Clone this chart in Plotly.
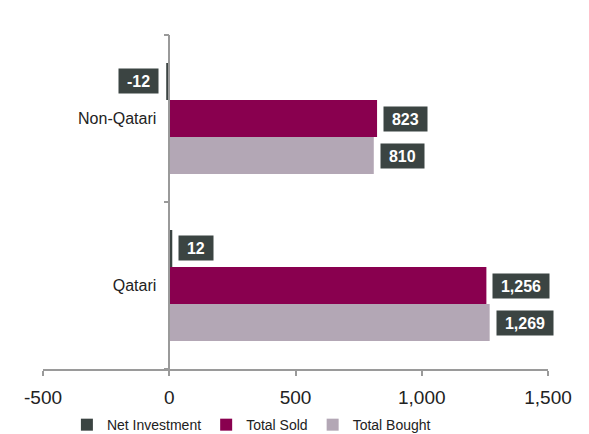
import plotly.graph_objects as go

categories = ["Qatari", "Non-Qatari"]
net_investment = [12, -12]
total_sold = [1256, 823]
total_bought = [1269, 810]

x_ticks = [-500, 0, 500, 1000, 1500]
x_tick_labels = ["-500", "0", "500", "1,000", "1,500"]

series = [
    ("Total Bought", total_bought, "#b3a7b5"),
    ("Total Sold", total_sold, "#89004f"),
    ("Net Investment", net_investment, "#3b4442"),
]

FONT = "Liberation Sans, Arial, sans-serif"
bargap = 0.335

fig = go.Figure()
for name, vals, color in series:
    fig.add_trace(go.Bar(
        y=categories, x=vals, name=name, orientation="h",
        marker=dict(color=color, line=dict(width=0)),
    ))

w = (1 - bargap) / len(series)
for i, (name, vals, color) in enumerate(series):
    off = -(1 - bargap) / 2 + (i + 0.5) * w
    for j, v in enumerate(vals):
        fig.add_annotation(
            x=v, y=j + off, xref="x", yref="y",
            text=f"&nbsp;<b>{v:,}</b>&nbsp;", showarrow=False,
            xanchor="left" if v >= 0 else "right",
            xshift=6 if v >= 0 else -7,
            bgcolor="#3b4442", borderpad=3.5,
            font=dict(color="white", size=16, family=FONT),
        )

fig.update_layout(
    width=589, height=434,
    margin=dict(l=35, r=49, t=27, b=73, autoexpand=False),
    paper_bgcolor="white", plot_bgcolor="white",
    barmode="group", bargap=bargap, bargroupgap=0,
    font=dict(family=FONT, color="#222222"),
    showlegend=True,
    legend=dict(
        orientation="h", traceorder="reversed",
        xref="container", yref="container",
        x=0.1, xanchor="left", y=0.039, yanchor="middle",
        font=dict(size=14, color="#222222"),
        itemwidth=30,
    ),
    xaxis=dict(
        range=[-500, 1500], tickvals=x_ticks, ticktext=x_tick_labels,
        showgrid=False, zeroline=False, automargin=False,
        showline=True, linecolor="#9a9a9a", linewidth=1.5,
        ticks="outside", ticklen=5, tickcolor="#9a9a9a", tickwidth=1.5,
        ticklabelstandoff=5,
        tickfont=dict(size=19, color="#222222"),
    ),
    yaxis=dict(
        range=[-0.5, 1.5], showgrid=False, zeroline=False, automargin=False,
        anchor="free", position=0.25,
        showline=True, linecolor="#9a9a9a", linewidth=1.5,
        ticks="outside", ticklen=5, tickcolor="#9a9a9a", tickwidth=1.5,
        tickson="boundaries", ticklabelstandoff=9,
        tickfont=dict(size=16, color="#222222"),
    ),
)

fig.write_html("out.html")
